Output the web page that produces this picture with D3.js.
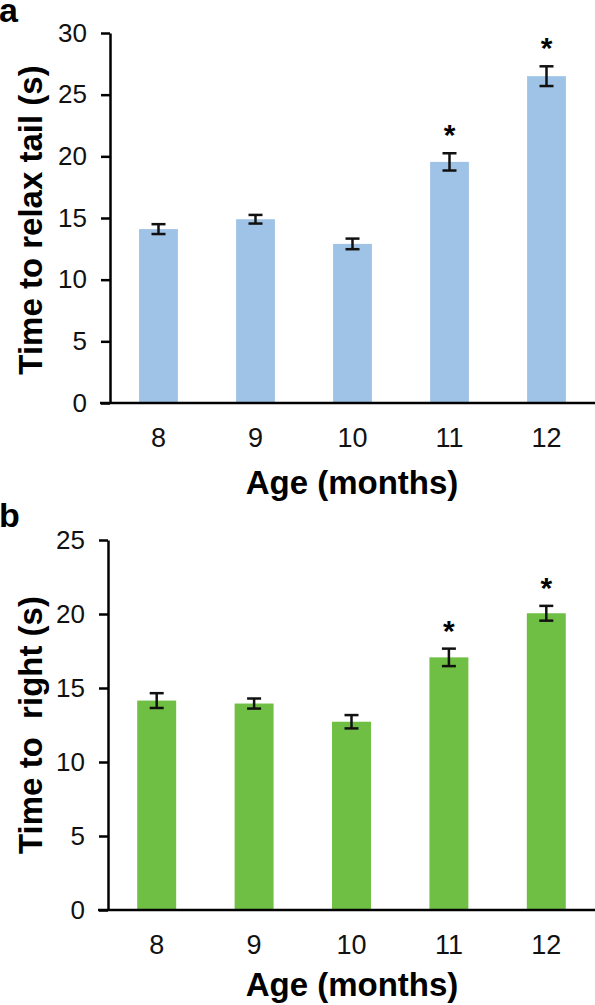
<!DOCTYPE html>
<html><head><meta charset="utf-8">
<script src="https://cdn.jsdelivr.net/npm/d3@7"></script>
<style>body{margin:0;background:#fff}svg{display:block}</style>
</head><body>
<svg id="c" width="595" height="1005"></svg>
<script>
const ages = ["8","9","10","11","12"];
const relaxTail = [14.1, 14.9, 12.9, 19.55, 26.5];
const relaxTailErr = [0.4, 0.35, 0.43, 0.7, 0.8];
const relaxTailSig = [false, false, false, true, true];
const rightTime = [14.15, 13.95, 12.72, 17.07, 20.05];
const rightTimeErr = [0.5, 0.34, 0.45, 0.59, 0.5];
const rightTimeSig = [false, false, false, true, true];
const ticksA = [0,5,10,15,20,25,30];
const ticksB = [0,5,10,15,20,25];

const svg = d3.select("#c");
const FONT = "Liberation Sans, Arial, sans-serif";

function panel(o){
  const g = svg.append("g");
  const x = d3.scaleBand().domain(ages).range([o.x0, 595]).paddingInner(0.6).paddingOuter(0.3);
  const y = d3.scaleLinear().domain([0, o.max]).range([o.yBottom, o.yTop]);
  g.selectAll("rect.bar").data(o.values).enter().append("rect")
    .attr("x",(d,i)=>x(ages[i])).attr("width",x.bandwidth())
    .attr("y",d=>y(d)).attr("height",d=>y(0)-y(d)).attr("fill",o.color);
  const ya = g.append("g").attr("transform",`translate(${o.x0},0)`)
    .call(d3.axisLeft(y).tickValues(o.ticks).tickSize(9).tickPadding(14).tickSizeOuter(0));
  ya.select(".domain").attr("stroke","#000").attr("stroke-width",2.5);
  ya.selectAll(".tick line").attr("stroke","#000").attr("stroke-width",2.5);
  ya.selectAll(".tick text").attr("font-family",FONT).attr("font-size",26).attr("fill","#111");
  const xa = g.append("g").attr("transform",`translate(0,${o.yBottom})`)
    .call(d3.axisBottom(x).tickSize(0).tickPadding(25));
  xa.select(".domain").attr("stroke","#000").attr("stroke-width",2.5).attr("d",`M${o.x0-10},0H595`);
  xa.selectAll(".tick text").attr("font-family",FONT).attr("font-size",27).attr("fill","#111");
  const eb = g.selectAll("g.err").data(o.values).enter().append("g")
    .attr("stroke","#111").attr("stroke-width",2.5);
  const cx = i => x(ages[i]) + x.bandwidth()/2;
  eb.append("line").attr("x1",(d,i)=>cx(i)).attr("x2",(d,i)=>cx(i))
    .attr("y1",(d,i)=>y(d+o.err[i])).attr("y2",(d,i)=>y(d-o.err[i]));
  eb.append("line").attr("x1",(d,i)=>cx(i)-7).attr("x2",(d,i)=>cx(i)+7)
    .attr("y1",(d,i)=>y(d+o.err[i])).attr("y2",(d,i)=>y(d+o.err[i]));
  eb.append("line").attr("x1",(d,i)=>cx(i)-7).attr("x2",(d,i)=>cx(i)+7)
    .attr("y1",(d,i)=>y(d-o.err[i])).attr("y2",(d,i)=>y(d-o.err[i]));
  g.selectAll("text.sig").data(o.values.map((d,i)=>({d,i})).filter(e=>o.sig[e.i])).enter().append("text")
    .attr("x",e=>cx(e.i)).attr("y",e=>y(e.d+o.err[e.i])-o.starGap)
    .attr("text-anchor","middle").attr("font-family",FONT).attr("font-weight","bold").attr("font-size",30).text("*");
  g.append("text").attr("transform",`translate(${o.ytx},${o.yty}) rotate(-90)`)
    .attr("text-anchor","middle").attr("font-family",FONT).attr("font-weight","bold").attr("font-size",33)
    .attr("xml:space","preserve").style("white-space","pre").text(o.ytitle);
  g.append("text").attr("x",352).attr("y",o.xty).attr("text-anchor","middle")
    .attr("font-family",FONT).attr("font-weight","bold").attr("font-size",33).text("Age (months)");
  g.append("text").attr("x",-1).attr("y",o.ly).attr("font-family",FONT).attr("font-weight","bold")
    .attr("font-size",34).text(o.letter);
}

panel({x0:110, yTop:33, yBottom:403, max:30, ticks:ticksA, values:relaxTail, err:relaxTailErr, sig:relaxTailSig,
  color:"#9fc3e6", ytitle:"Time to relax tail (s)", ytx:42, yty:220, xty:494, letter:"a", ly:22, starGap:8});
panel({x0:108, yTop:540, yBottom:910, max:25, ticks:ticksB, values:rightTime, err:rightTimeErr, sig:rightTimeSig,
  color:"#6fbf44", ytitle:"Time to  right (s)", ytx:42, yty:725, xty:996, letter:"b", ly:527, starGap:8});
</script>
</body></html>
